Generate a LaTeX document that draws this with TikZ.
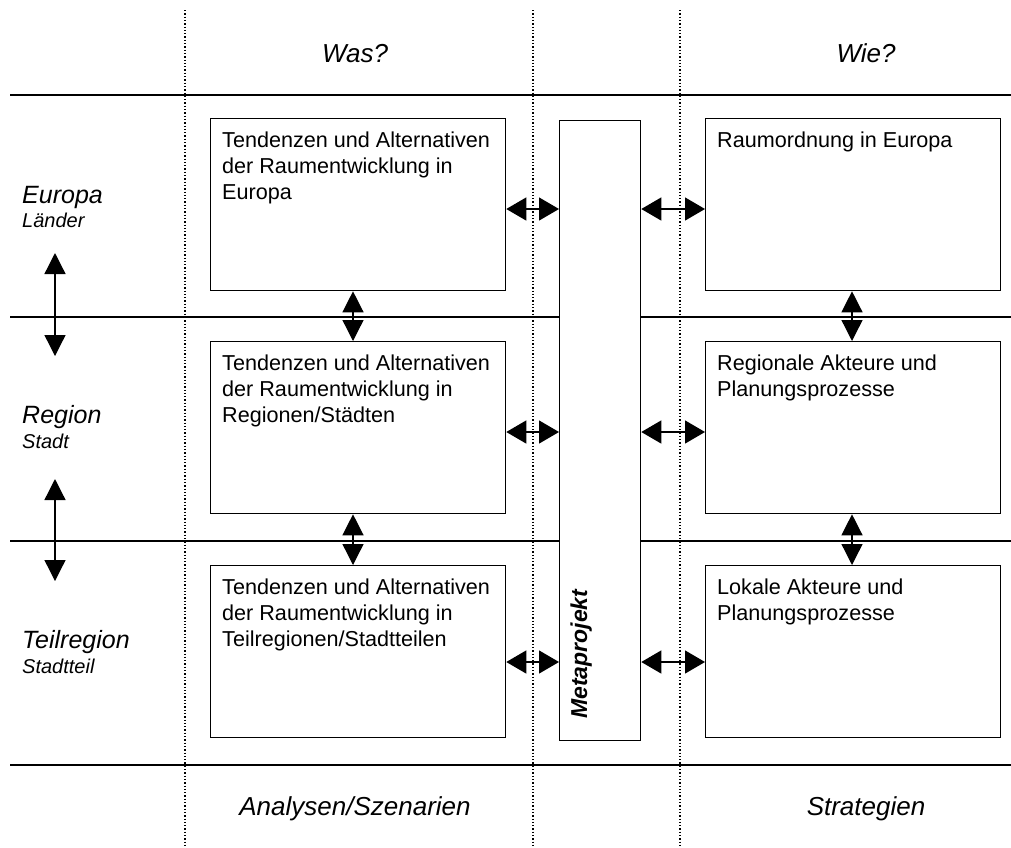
\documentclass[tikz,border=0pt]{standalone}
\usepackage{fontspec}
\setmainfont{Liberation Sans}
\usetikzlibrary{arrows.meta}
\begin{document}
\begin{tikzpicture}[x=1pt,y=-1pt,
  rowline/.style={line width=2.4pt},
  colline/.style={line width=1.3pt, dotted},
  box/.style={draw, line width=1.3pt, minimum width=295pt, minimum height=172pt, inner sep=0pt, anchor=north west},
  boxtext/.style={anchor=north west, align=left, font=\fontsize{21.6}{26}\selectfont, inner sep=0pt},
  head/.style={font=\fontsize{26}{30}\selectfont\itshape, anchor=base, inner sep=0pt},
  lev/.style={font=\fontsize{25}{30}\selectfont\itshape, anchor=base west, inner sep=0pt},
  sublev/.style={font=\fontsize{20}{24}\selectfont\itshape, anchor=base west, inner sep=0pt},
  dbl/.style={line width=1.3pt, {Triangle[length=20pt,width=23pt]}-{Triangle[length=20pt,width=23pt]}},
  vdbl/.style={line width=1.3pt, {Triangle[length=21pt,width=21pt]}-{Triangle[length=21pt,width=21pt]}}
]
\useasboundingbox (0,0) rectangle (1011,847);
% dotted columns
\coordinate (c1t) at (185,10); \coordinate (c1b) at (185,847);
\coordinate (c2t) at (533,10); \coordinate (c2b) at (533,847);
\coordinate (c3t) at (680,10); \coordinate (c3b) at (680,847);
\draw[colline] (c1t) -- (c1b);
\draw[colline] (c2t) -- (c2b);
\draw[colline] (c3t) -- (c3b);
% row lines
\foreach \y/\n in {95/a,317/b,541/c,765/d} {
  \coordinate (r\n l) at (10,\y); \coordinate (r\n r) at (1011,\y);
  \draw[rowline] (r\n l) -- (r\n r);
}
% header and footer
\node[head] (was) at (355,62) {Was?};
\node[head] (wie) at (866,62) {Wie?};
\node[head] (ana) at (355,815) {Analysen/Szenarien};
\node[head] (str) at (866,815) {Strategien};
% left levels
\node[lev] (eu) at (22,203) {Europa};
\node[sublev] (la) at (22,227) {Länder};
\node[lev] (re) at (22,423) {Region};
\node[sublev] (st) at (22,448) {Stadt};
\node[lev] (te) at (22,648) {Teilregion};
\node[sublev] (stt) at (22,673) {Stadtteil};
% boxes
\node[box, fill=white] (L1) at (210,118) {};
\node[box, fill=white] (L2) at (210,341) {};
\node[box, fill=white] (L3) at (210,565) {};
\node[box, fill=white] (R1) at (705,118) {};
\node[box, fill=white] (R2) at (705,341) {};
\node[box, fill=white] (R3) at (705,565) {};
\node[draw, fill=white, line width=1.3pt, minimum width=81pt, minimum height=620pt, inner sep=0pt, anchor=north west] (M) at (559,120) {};
\node[rotate=90, anchor=base west, font=\fontsize{23}{28}\selectfont\bfseries\itshape, inner sep=0pt] (mt) at (587,719) {Metaprojekt};
% box texts
\node[boxtext] (tL1) at (222,132) {Tendenzen und Alternativen\\der Raumentwicklung in\\Europa};
\node[boxtext] (tL2) at (222,355) {Tendenzen und Alternativen\\der Raumentwicklung in\\Regionen/Städten};
\node[boxtext] (tL3) at (222,579) {Tendenzen und Alternativen\\der Raumentwicklung in\\Teilregionen/Stadtteilen};
\node[boxtext] (tR1) at (717,132) {Raumordnung in Europa};
\node[boxtext] (tR2) at (717,355) {Regionale Akteure und\\Planungsprozesse};
\node[boxtext] (tR3) at (717,579) {Lokale Akteure und\\Planungsprozesse};
% horizontal arrows to Metaprojekt
\draw[dbl] (L1.east |- 0,209) -- (M.west |- 0,209);
\draw[dbl] (M.east |- 0,209) -- (R1.west |- 0,209);
\draw[dbl] (L2.east |- 0,432) -- (M.west |- 0,432);
\draw[dbl] (M.east |- 0,432) -- (R2.west |- 0,432);
\draw[dbl] (L3.east |- 0,662) -- (M.west |- 0,662);
\draw[dbl] (M.east |- 0,662) -- (R3.west |- 0,662);
% vertical arrows between boxes
\draw[vdbl] (353,0 |- L1.south) -- (353,0 |- L2.north);
\draw[vdbl] (353,0 |- L2.south) -- (353,0 |- L3.north);
\draw[vdbl] (852,0 |- R1.south) -- (852,0 |- R2.north);
\draw[vdbl] (852,0 |- R2.south) -- (852,0 |- R3.north);
% left level arrows
\coordinate (a1t) at (55,253); \coordinate (a1b) at (55,356);
\coordinate (a2t) at (55,479); \coordinate (a2b) at (55,581);
\draw[vdbl] (a1t) -- (a1b);
\draw[vdbl] (a2t) -- (a2b);
\end{tikzpicture}
\end{document}
